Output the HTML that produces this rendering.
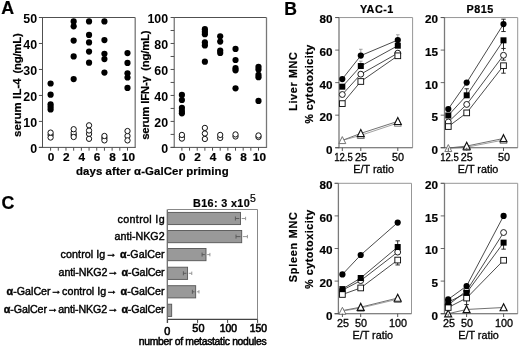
<!DOCTYPE html>
<html lang="en">
<head>
<meta charset="utf-8">
<title>Figure</title>
<style>
html,body{margin:0;padding:0;background:#fff;}
body{width:520px;height:347px;overflow:hidden;font-family:"Liberation Sans", sans-serif;}
svg{display:block;will-change:transform;}
svg text{font-family:"Liberation Sans", sans-serif;}
</style>
</head>
<body>
<svg width="520" height="347" viewBox="0 0 520 347">
<rect x="0" y="0" width="520" height="347" fill="#fff"/>
<text x="1.20" y="14.20" font-size="17.8" font-weight="bold" text-anchor="start" fill="#000" stroke="#000" stroke-width="0.2">A</text>
<line x1="42.50" y1="17.50" x2="135.20" y2="17.50" stroke="#505050" stroke-width="1"/>
<line x1="135.20" y1="17.50" x2="135.20" y2="147.90" stroke="#777" stroke-width="1.3"/>
<circle cx="50.60" cy="83.49" r="3.1" fill="#000"/>
<circle cx="50.60" cy="94.66" r="3.1" fill="#000"/>
<circle cx="50.60" cy="104.27" r="3.1" fill="#000"/>
<circle cx="50.60" cy="106.87" r="3.1" fill="#000"/>
<circle cx="50.60" cy="109.47" r="3.1" fill="#000"/>
<circle cx="73.67" cy="21.40" r="3.1" fill="#000"/>
<circle cx="73.67" cy="26.33" r="3.1" fill="#000"/>
<circle cx="73.67" cy="40.62" r="3.1" fill="#000"/>
<circle cx="73.67" cy="56.47" r="3.1" fill="#000"/>
<circle cx="73.67" cy="79.07" r="3.1" fill="#000"/>
<circle cx="89.05" cy="21.40" r="3.1" fill="#000"/>
<circle cx="89.05" cy="34.91" r="3.1" fill="#000"/>
<circle cx="89.05" cy="42.44" r="3.1" fill="#000"/>
<circle cx="89.05" cy="51.53" r="3.1" fill="#000"/>
<circle cx="89.05" cy="62.71" r="3.1" fill="#000"/>
<circle cx="104.43" cy="21.40" r="3.1" fill="#000"/>
<circle cx="104.43" cy="40.10" r="3.1" fill="#000"/>
<circle cx="104.43" cy="53.87" r="3.1" fill="#000"/>
<circle cx="104.43" cy="59.07" r="3.1" fill="#000"/>
<circle cx="104.43" cy="72.58" r="3.1" fill="#000"/>
<circle cx="127.50" cy="53.09" r="3.1" fill="#000"/>
<circle cx="127.50" cy="62.96" r="3.1" fill="#000"/>
<circle cx="127.50" cy="73.36" r="3.1" fill="#000"/>
<circle cx="127.50" cy="77.51" r="3.1" fill="#000"/>
<circle cx="127.50" cy="87.91" r="3.1" fill="#000"/>
<circle cx="50.60" cy="134.93" r="2.65" fill="#fff" stroke="#111" stroke-width="1.0"/>
<circle cx="50.60" cy="137.53" r="2.65" fill="#fff" stroke="#111" stroke-width="1.0"/>
<circle cx="50.60" cy="132.59" r="2.65" fill="#fff" stroke="#111" stroke-width="1.0"/>
<circle cx="73.67" cy="134.93" r="2.65" fill="#fff" stroke="#111" stroke-width="1.0"/>
<circle cx="73.67" cy="132.85" r="2.65" fill="#fff" stroke="#111" stroke-width="1.0"/>
<circle cx="73.67" cy="137.01" r="2.65" fill="#fff" stroke="#111" stroke-width="1.0"/>
<circle cx="73.67" cy="129.21" r="2.65" fill="#fff" stroke="#111" stroke-width="1.0"/>
<circle cx="89.05" cy="133.89" r="2.65" fill="#fff" stroke="#111" stroke-width="1.0"/>
<circle cx="89.05" cy="130.51" r="2.65" fill="#fff" stroke="#111" stroke-width="1.0"/>
<circle cx="89.05" cy="138.83" r="2.65" fill="#fff" stroke="#111" stroke-width="1.0"/>
<circle cx="89.05" cy="125.32" r="2.65" fill="#fff" stroke="#111" stroke-width="1.0"/>
<circle cx="104.43" cy="138.05" r="2.65" fill="#fff" stroke="#111" stroke-width="1.0"/>
<circle cx="104.43" cy="140.39" r="2.65" fill="#fff" stroke="#111" stroke-width="1.0"/>
<circle cx="104.43" cy="135.97" r="2.65" fill="#fff" stroke="#111" stroke-width="1.0"/>
<circle cx="127.50" cy="135.97" r="2.65" fill="#fff" stroke="#111" stroke-width="1.0"/>
<circle cx="127.50" cy="140.39" r="2.65" fill="#fff" stroke="#111" stroke-width="1.0"/>
<circle cx="127.50" cy="131.03" r="2.65" fill="#fff" stroke="#111" stroke-width="1.0"/>
<line x1="42.50" y1="17.00" x2="42.50" y2="147.90" stroke="#505050" stroke-width="1"/>
<line x1="38.90" y1="147.40" x2="135.20" y2="147.40" stroke="#505050" stroke-width="1"/>
<line x1="38.90" y1="147.40" x2="42.50" y2="147.40" stroke="#505050" stroke-width="1"/>
<text x="37.10" y="152.60" font-size="12.4" font-weight="bold" text-anchor="end" fill="#000">0</text>
<line x1="38.90" y1="121.42" x2="42.50" y2="121.42" stroke="#505050" stroke-width="1"/>
<text x="37.10" y="126.62" font-size="12.4" font-weight="bold" text-anchor="end" fill="#000">10</text>
<line x1="38.90" y1="95.44" x2="42.50" y2="95.44" stroke="#505050" stroke-width="1"/>
<text x="37.10" y="100.64" font-size="12.4" font-weight="bold" text-anchor="end" fill="#000">20</text>
<line x1="38.90" y1="69.46" x2="42.50" y2="69.46" stroke="#505050" stroke-width="1"/>
<text x="37.10" y="74.66" font-size="12.4" font-weight="bold" text-anchor="end" fill="#000">30</text>
<line x1="38.90" y1="43.48" x2="42.50" y2="43.48" stroke="#505050" stroke-width="1"/>
<text x="37.10" y="48.68" font-size="12.4" font-weight="bold" text-anchor="end" fill="#000">40</text>
<line x1="38.90" y1="17.50" x2="42.50" y2="17.50" stroke="#505050" stroke-width="1"/>
<text x="37.10" y="22.70" font-size="12.4" font-weight="bold" text-anchor="end" fill="#000">50</text>
<line x1="50.60" y1="147.40" x2="50.60" y2="150.70" stroke="#505050" stroke-width="1"/>
<line x1="58.29" y1="147.40" x2="58.29" y2="150.70" stroke="#505050" stroke-width="1"/>
<line x1="65.98" y1="147.40" x2="65.98" y2="150.70" stroke="#505050" stroke-width="1"/>
<line x1="73.67" y1="147.40" x2="73.67" y2="150.70" stroke="#505050" stroke-width="1"/>
<line x1="81.36" y1="147.40" x2="81.36" y2="150.70" stroke="#505050" stroke-width="1"/>
<line x1="89.05" y1="147.40" x2="89.05" y2="150.70" stroke="#505050" stroke-width="1"/>
<line x1="96.74" y1="147.40" x2="96.74" y2="150.70" stroke="#505050" stroke-width="1"/>
<line x1="104.43" y1="147.40" x2="104.43" y2="150.70" stroke="#505050" stroke-width="1"/>
<line x1="112.12" y1="147.40" x2="112.12" y2="150.70" stroke="#505050" stroke-width="1"/>
<line x1="119.81" y1="147.40" x2="119.81" y2="150.70" stroke="#505050" stroke-width="1"/>
<line x1="127.50" y1="147.40" x2="127.50" y2="150.70" stroke="#505050" stroke-width="1"/>
<text x="51.00" y="161.30" font-size="11.8" font-weight="bold" text-anchor="middle" fill="#000" stroke="#000" stroke-width="0.2">0</text>
<text x="66.38" y="161.30" font-size="11.8" font-weight="bold" text-anchor="middle" fill="#000" stroke="#000" stroke-width="0.2">2</text>
<text x="81.76" y="161.30" font-size="11.8" font-weight="bold" text-anchor="middle" fill="#000" stroke="#000" stroke-width="0.2">4</text>
<text x="97.14" y="161.30" font-size="11.8" font-weight="bold" text-anchor="middle" fill="#000" stroke="#000" stroke-width="0.2">6</text>
<text x="112.52" y="161.30" font-size="11.8" font-weight="bold" text-anchor="middle" fill="#000" stroke="#000" stroke-width="0.2">8</text>
<text x="128.40" y="161.30" font-size="11.8" font-weight="bold" text-anchor="middle" fill="#000" stroke="#000" stroke-width="0.2">10</text>
<text x="21.40" y="136.90" font-size="11.4" font-weight="bold" text-anchor="start" fill="#000" stroke="#000" stroke-width="0.2" transform="rotate(-90 21.40 136.90)" textLength="58.6" lengthAdjust="spacing">serum IL-4</text>
<text x="21.40" y="73.50" font-size="11.4" font-weight="bold" text-anchor="start" fill="#000" stroke="#000" stroke-width="0.2" transform="rotate(-90 21.40 73.50)" textLength="40.2" lengthAdjust="spacing">(ng/mL)</text>
<line x1="174.20" y1="17.50" x2="266.50" y2="17.50" stroke="#505050" stroke-width="1"/>
<line x1="266.50" y1="17.50" x2="266.50" y2="147.90" stroke="#777" stroke-width="1.3"/>
<circle cx="181.90" cy="94.92" r="3.1" fill="#000"/>
<circle cx="181.90" cy="99.99" r="3.1" fill="#000"/>
<circle cx="181.90" cy="107.91" r="3.1" fill="#000"/>
<circle cx="181.90" cy="111.03" r="3.1" fill="#000"/>
<circle cx="181.90" cy="113.37" r="3.1" fill="#000"/>
<circle cx="204.88" cy="29.19" r="3.1" fill="#000"/>
<circle cx="204.88" cy="31.79" r="3.1" fill="#000"/>
<circle cx="204.88" cy="34.13" r="3.1" fill="#000"/>
<circle cx="204.88" cy="42.44" r="3.1" fill="#000"/>
<circle cx="204.88" cy="45.43" r="3.1" fill="#000"/>
<circle cx="204.88" cy="61.67" r="3.1" fill="#000"/>
<circle cx="220.20" cy="36.34" r="3.1" fill="#000"/>
<circle cx="220.20" cy="41.53" r="3.1" fill="#000"/>
<circle cx="220.20" cy="50.62" r="3.1" fill="#000"/>
<circle cx="220.20" cy="52.96" r="3.1" fill="#000"/>
<circle cx="235.52" cy="48.94" r="3.1" fill="#000"/>
<circle cx="235.52" cy="59.98" r="3.1" fill="#000"/>
<circle cx="235.52" cy="68.16" r="3.1" fill="#000"/>
<circle cx="235.52" cy="70.37" r="3.1" fill="#000"/>
<circle cx="235.52" cy="88.30" r="3.1" fill="#000"/>
<circle cx="258.50" cy="66.86" r="3.1" fill="#000"/>
<circle cx="258.50" cy="69.46" r="3.1" fill="#000"/>
<circle cx="258.50" cy="74.92" r="3.1" fill="#000"/>
<circle cx="258.50" cy="77.25" r="3.1" fill="#000"/>
<circle cx="258.50" cy="100.90" r="3.1" fill="#000"/>
<circle cx="181.90" cy="136.75" r="2.65" fill="#fff" stroke="#111" stroke-width="1.0"/>
<circle cx="181.90" cy="138.57" r="2.65" fill="#fff" stroke="#111" stroke-width="1.0"/>
<circle cx="181.90" cy="134.93" r="2.65" fill="#fff" stroke="#111" stroke-width="1.0"/>
<circle cx="204.88" cy="133.50" r="2.65" fill="#fff" stroke="#111" stroke-width="1.0"/>
<circle cx="204.88" cy="138.96" r="2.65" fill="#fff" stroke="#111" stroke-width="1.0"/>
<circle cx="204.88" cy="127.92" r="2.65" fill="#fff" stroke="#111" stroke-width="1.0"/>
<circle cx="220.20" cy="137.92" r="2.65" fill="#fff" stroke="#111" stroke-width="1.0"/>
<circle cx="220.20" cy="134.93" r="2.65" fill="#fff" stroke="#111" stroke-width="1.0"/>
<circle cx="235.52" cy="136.49" r="2.65" fill="#fff" stroke="#111" stroke-width="1.0"/>
<circle cx="235.52" cy="134.41" r="2.65" fill="#fff" stroke="#111" stroke-width="1.0"/>
<circle cx="258.50" cy="137.01" r="2.65" fill="#fff" stroke="#111" stroke-width="1.0"/>
<circle cx="258.50" cy="135.45" r="2.65" fill="#fff" stroke="#111" stroke-width="1.0"/>
<line x1="174.20" y1="17.00" x2="174.20" y2="147.90" stroke="#505050" stroke-width="1"/>
<line x1="170.60" y1="147.40" x2="266.50" y2="147.40" stroke="#505050" stroke-width="1"/>
<line x1="170.60" y1="147.40" x2="174.20" y2="147.40" stroke="#505050" stroke-width="1"/>
<text x="168.10" y="152.60" font-size="12.4" font-weight="bold" text-anchor="end" fill="#000">0</text>
<line x1="170.60" y1="134.41" x2="174.20" y2="134.41" stroke="#505050" stroke-width="1"/>
<line x1="170.60" y1="121.42" x2="174.20" y2="121.42" stroke="#505050" stroke-width="1"/>
<text x="168.10" y="126.62" font-size="12.4" font-weight="bold" text-anchor="end" fill="#000">20</text>
<line x1="170.60" y1="108.43" x2="174.20" y2="108.43" stroke="#505050" stroke-width="1"/>
<line x1="170.60" y1="95.44" x2="174.20" y2="95.44" stroke="#505050" stroke-width="1"/>
<text x="168.10" y="100.64" font-size="12.4" font-weight="bold" text-anchor="end" fill="#000">40</text>
<line x1="170.60" y1="82.45" x2="174.20" y2="82.45" stroke="#505050" stroke-width="1"/>
<line x1="170.60" y1="69.46" x2="174.20" y2="69.46" stroke="#505050" stroke-width="1"/>
<text x="168.10" y="74.66" font-size="12.4" font-weight="bold" text-anchor="end" fill="#000">60</text>
<line x1="170.60" y1="56.47" x2="174.20" y2="56.47" stroke="#505050" stroke-width="1"/>
<line x1="170.60" y1="43.48" x2="174.20" y2="43.48" stroke="#505050" stroke-width="1"/>
<text x="168.10" y="48.68" font-size="12.4" font-weight="bold" text-anchor="end" fill="#000">80</text>
<line x1="170.60" y1="30.49" x2="174.20" y2="30.49" stroke="#505050" stroke-width="1"/>
<line x1="170.60" y1="17.50" x2="174.20" y2="17.50" stroke="#505050" stroke-width="1"/>
<text x="168.10" y="22.70" font-size="12.4" font-weight="bold" text-anchor="end" fill="#000">100</text>
<line x1="181.90" y1="147.40" x2="181.90" y2="150.70" stroke="#505050" stroke-width="1"/>
<line x1="189.56" y1="147.40" x2="189.56" y2="150.70" stroke="#505050" stroke-width="1"/>
<line x1="197.22" y1="147.40" x2="197.22" y2="150.70" stroke="#505050" stroke-width="1"/>
<line x1="204.88" y1="147.40" x2="204.88" y2="150.70" stroke="#505050" stroke-width="1"/>
<line x1="212.54" y1="147.40" x2="212.54" y2="150.70" stroke="#505050" stroke-width="1"/>
<line x1="220.20" y1="147.40" x2="220.20" y2="150.70" stroke="#505050" stroke-width="1"/>
<line x1="227.86" y1="147.40" x2="227.86" y2="150.70" stroke="#505050" stroke-width="1"/>
<line x1="235.52" y1="147.40" x2="235.52" y2="150.70" stroke="#505050" stroke-width="1"/>
<line x1="243.18" y1="147.40" x2="243.18" y2="150.70" stroke="#505050" stroke-width="1"/>
<line x1="250.84" y1="147.40" x2="250.84" y2="150.70" stroke="#505050" stroke-width="1"/>
<line x1="258.50" y1="147.40" x2="258.50" y2="150.70" stroke="#505050" stroke-width="1"/>
<text x="182.30" y="161.30" font-size="11.8" font-weight="bold" text-anchor="middle" fill="#000" stroke="#000" stroke-width="0.2">0</text>
<text x="197.62" y="161.30" font-size="11.8" font-weight="bold" text-anchor="middle" fill="#000" stroke="#000" stroke-width="0.2">2</text>
<text x="212.94" y="161.30" font-size="11.8" font-weight="bold" text-anchor="middle" fill="#000" stroke="#000" stroke-width="0.2">4</text>
<text x="228.26" y="161.30" font-size="11.8" font-weight="bold" text-anchor="middle" fill="#000" stroke="#000" stroke-width="0.2">6</text>
<text x="243.58" y="161.30" font-size="11.8" font-weight="bold" text-anchor="middle" fill="#000" stroke="#000" stroke-width="0.2">8</text>
<text x="259.40" y="161.30" font-size="11.8" font-weight="bold" text-anchor="middle" fill="#000" stroke="#000" stroke-width="0.2">10</text>
<text x="149.20" y="139.80" font-size="11.4" font-weight="bold" text-anchor="start" fill="#000" stroke="#000" stroke-width="0.2" transform="rotate(-90 149.20 139.80)" textLength="63.6" lengthAdjust="spacing">serum IFN-γ</text>
<text x="149.20" y="70.80" font-size="11.4" font-weight="bold" text-anchor="start" fill="#000" stroke="#000" stroke-width="0.2" transform="rotate(-90 149.20 70.80)" textLength="40.4" lengthAdjust="spacing">(ng/mL)</text>
<text x="152.30" y="174.80" font-size="11.4" font-weight="bold" text-anchor="middle" fill="#000" stroke="#000" stroke-width="0.2" textLength="152.6" lengthAdjust="spacing">days after α-GalCer priming</text>
<text x="284.30" y="14.60" font-size="17.6" font-weight="bold" text-anchor="start" fill="#000" stroke="#000" stroke-width="0.2">B</text>
<line x1="335.20" y1="17.55" x2="412.60" y2="17.55" stroke="#979797" stroke-width="1"/>
<line x1="412.60" y1="17.55" x2="412.60" y2="147.70" stroke="#979797" stroke-width="1"/>
<line x1="360.80" y1="49.27" x2="360.80" y2="55.62" stroke="#8a8a8a" stroke-width="0.8"/>
<line x1="359.00" y1="49.27" x2="362.60" y2="49.27" stroke="#8a8a8a" stroke-width="0.8"/>
<line x1="397.80" y1="34.79" x2="397.80" y2="40.00" stroke="#8a8a8a" stroke-width="0.8"/>
<line x1="396.00" y1="34.79" x2="399.60" y2="34.79" stroke="#8a8a8a" stroke-width="0.8"/>
<line x1="360.80" y1="61.15" x2="360.80" y2="66.03" stroke="#8a8a8a" stroke-width="0.8"/>
<line x1="359.00" y1="61.15" x2="362.60" y2="61.15" stroke="#8a8a8a" stroke-width="0.8"/>
<polyline points="342.30,140.38 360.80,133.38 397.80,121.34" fill="none" stroke="#333" stroke-width="0.7"/>
<polyline points="342.30,140.38 360.80,135.34 397.80,122.97" fill="none" stroke="#777" stroke-width="0.7"/>
<line x1="339.00" y1="17.55" x2="339.00" y2="148.20" stroke="#7a7a7a" stroke-width="1.3"/>
<line x1="335.20" y1="147.70" x2="412.60" y2="147.70" stroke="#5a5a5a" stroke-width="1.1"/>
<polygon points="342.30,136.58 345.80,143.58 338.80,143.58" fill="#fff" stroke="#747474" stroke-width="1.0" stroke-linejoin="miter"/>
<polygon points="360.80,131.54 364.30,138.54 357.30,138.54" fill="#fff" stroke="#747474" stroke-width="1.0" stroke-linejoin="miter"/>
<polygon points="397.80,119.17 401.30,126.17 394.30,126.17" fill="#fff" stroke="#747474" stroke-width="1.0" stroke-linejoin="miter"/>
<polygon points="360.80,129.58 364.30,136.58 357.30,136.58" fill="#fff" stroke="#111" stroke-width="1.15" stroke-linejoin="miter"/>
<polygon points="397.80,117.54 401.30,124.54 394.30,124.54" fill="#fff" stroke="#111" stroke-width="1.15" stroke-linejoin="miter"/>
<polyline points="342.30,79.05 360.80,55.62 397.80,40.00" fill="none" stroke="#2a2a2a" stroke-width="0.85"/>
<polyline points="342.30,86.69 360.80,66.03 397.80,45.69" fill="none" stroke="#2a2a2a" stroke-width="0.85"/>
<polyline points="342.30,94.50 360.80,74.17 397.80,53.18" fill="none" stroke="#2a2a2a" stroke-width="0.85"/>
<polyline points="342.30,103.61 360.80,81.49 397.80,55.78" fill="none" stroke="#2a2a2a" stroke-width="0.85"/>
<circle cx="342.30" cy="94.50" r="2.95" fill="#fff" stroke="#111" stroke-width="0.95"/>
<circle cx="360.80" cy="74.17" r="2.95" fill="#fff" stroke="#111" stroke-width="0.95"/>
<circle cx="397.80" cy="53.18" r="2.95" fill="#fff" stroke="#111" stroke-width="0.95"/>
<rect x="339.45" y="100.76" width="5.7" height="5.7" fill="#fff" stroke="#111" stroke-width="0.95"/>
<rect x="357.95" y="78.64" width="5.7" height="5.7" fill="#fff" stroke="#111" stroke-width="0.95"/>
<rect x="394.95" y="52.93" width="5.7" height="5.7" fill="#fff" stroke="#111" stroke-width="0.95"/>
<rect x="339.30" y="83.69" width="6.0" height="6.0" fill="#000"/>
<rect x="357.80" y="63.03" width="6.0" height="6.0" fill="#000"/>
<rect x="394.80" y="42.69" width="6.0" height="6.0" fill="#000"/>
<circle cx="342.30" cy="79.05" r="3.1" fill="#000"/>
<circle cx="360.80" cy="55.62" r="3.1" fill="#000"/>
<circle cx="397.80" cy="40.00" r="3.1" fill="#000"/>
<line x1="335.20" y1="147.70" x2="339.00" y2="147.70" stroke="#444" stroke-width="0.8"/>
<text x="332.60" y="153.60" font-size="11.7" font-weight="bold" text-anchor="end" fill="#000" stroke="#000" stroke-width="0.2">0</text>
<line x1="335.20" y1="115.16" x2="339.00" y2="115.16" stroke="#444" stroke-width="0.8"/>
<text x="332.60" y="121.06" font-size="11.7" font-weight="bold" text-anchor="end" fill="#000" stroke="#000" stroke-width="0.2">20</text>
<line x1="335.20" y1="82.62" x2="339.00" y2="82.62" stroke="#444" stroke-width="0.8"/>
<text x="332.60" y="88.53" font-size="11.7" font-weight="bold" text-anchor="end" fill="#000" stroke="#000" stroke-width="0.2">40</text>
<line x1="335.20" y1="50.09" x2="339.00" y2="50.09" stroke="#444" stroke-width="0.8"/>
<text x="332.60" y="55.99" font-size="11.7" font-weight="bold" text-anchor="end" fill="#000" stroke="#000" stroke-width="0.2">60</text>
<line x1="335.20" y1="17.55" x2="339.00" y2="17.55" stroke="#444" stroke-width="0.8"/>
<text x="332.60" y="23.45" font-size="11.7" font-weight="bold" text-anchor="end" fill="#000" stroke="#000" stroke-width="0.2">80</text>
<line x1="342.30" y1="147.70" x2="342.30" y2="151.00" stroke="#555" stroke-width="1"/>
<text x="343.50" y="161.20" font-size="10.8" font-weight="normal" text-anchor="middle" fill="#000" stroke="#000" stroke-width="0.3" textLength="18.6" lengthAdjust="spacingAndGlyphs">12.5</text>
<line x1="360.80" y1="147.70" x2="360.80" y2="151.00" stroke="#555" stroke-width="1"/>
<text x="360.90" y="161.20" font-size="10.8" font-weight="normal" text-anchor="middle" fill="#000" stroke="#000" stroke-width="0.3">25</text>
<line x1="397.80" y1="147.70" x2="397.80" y2="151.00" stroke="#555" stroke-width="1"/>
<text x="398.10" y="161.20" font-size="10.8" font-weight="normal" text-anchor="middle" fill="#000" stroke="#000" stroke-width="0.3">50</text>
<text x="373.65" y="172.90" font-size="10.8" font-weight="normal" text-anchor="middle" fill="#000" stroke="#000" stroke-width="0.3" textLength="40.6" lengthAdjust="spacing">E/T ratio</text>
<line x1="440.70" y1="17.55" x2="517.70" y2="17.55" stroke="#979797" stroke-width="1"/>
<line x1="517.70" y1="17.55" x2="517.70" y2="147.70" stroke="#979797" stroke-width="1"/>
<line x1="503.50" y1="19.18" x2="503.50" y2="31.54" stroke="#222" stroke-width="0.95"/>
<line x1="501.30" y1="19.18" x2="505.70" y2="19.18" stroke="#222" stroke-width="0.95"/>
<line x1="501.30" y1="31.54" x2="505.70" y2="31.54" stroke="#222" stroke-width="0.95"/>
<line x1="503.50" y1="40.33" x2="503.50" y2="50.74" stroke="#222" stroke-width="0.95"/>
<line x1="501.30" y1="48.46" x2="505.70" y2="48.46" stroke="#222" stroke-width="0.95"/>
<line x1="503.50" y1="55.29" x2="503.50" y2="60.17" stroke="#222" stroke-width="0.95"/>
<line x1="501.30" y1="60.17" x2="505.70" y2="60.17" stroke="#222" stroke-width="0.95"/>
<line x1="503.50" y1="65.71" x2="503.50" y2="73.19" stroke="#222" stroke-width="0.95"/>
<line x1="501.30" y1="73.19" x2="505.70" y2="73.19" stroke="#222" stroke-width="0.95"/>
<line x1="466.70" y1="88.81" x2="466.70" y2="95.31" stroke="#222" stroke-width="0.95"/>
<line x1="464.50" y1="88.81" x2="468.90" y2="88.81" stroke="#222" stroke-width="0.95"/>
<polyline points="448.30,148.03 466.70,146.07 503.50,138.46" fill="none" stroke="#333" stroke-width="0.7"/>
<polyline points="448.30,148.35 466.70,147.18 503.50,140.02" fill="none" stroke="#777" stroke-width="0.7"/>
<line x1="444.50" y1="17.55" x2="444.50" y2="148.20" stroke="#7a7a7a" stroke-width="1.3"/>
<line x1="440.70" y1="147.70" x2="517.70" y2="147.70" stroke="#5a5a5a" stroke-width="1.1"/>
<polygon points="448.30,144.55 451.80,151.55 444.80,151.55" fill="#fff" stroke="#747474" stroke-width="1.0" stroke-linejoin="miter"/>
<polygon points="466.70,143.38 470.20,150.38 463.20,150.38" fill="#fff" stroke="#747474" stroke-width="1.0" stroke-linejoin="miter"/>
<polygon points="503.50,136.22 507.00,143.22 500.00,143.22" fill="#fff" stroke="#747474" stroke-width="1.0" stroke-linejoin="miter"/>
<polygon points="466.70,142.27 470.20,149.27 463.20,149.27" fill="#fff" stroke="#111" stroke-width="1.15" stroke-linejoin="miter"/>
<polygon points="503.50,134.66 507.00,141.66 500.00,141.66" fill="#fff" stroke="#111" stroke-width="1.15" stroke-linejoin="miter"/>
<polyline points="448.30,108.98 466.70,82.62 503.50,24.06" fill="none" stroke="#2a2a2a" stroke-width="0.85"/>
<polyline points="448.30,115.49 466.70,95.31 503.50,40.33" fill="none" stroke="#2a2a2a" stroke-width="0.85"/>
<polyline points="448.30,122.00 466.70,104.43 503.50,55.29" fill="none" stroke="#2a2a2a" stroke-width="0.85"/>
<polyline points="448.30,126.55 466.70,112.88 503.50,65.71" fill="none" stroke="#2a2a2a" stroke-width="0.85"/>
<circle cx="448.30" cy="122.00" r="2.95" fill="#fff" stroke="#111" stroke-width="0.95"/>
<circle cx="466.70" cy="104.43" r="2.95" fill="#fff" stroke="#111" stroke-width="0.95"/>
<circle cx="503.50" cy="55.29" r="2.95" fill="#fff" stroke="#111" stroke-width="0.95"/>
<rect x="445.45" y="123.70" width="5.7" height="5.7" fill="#fff" stroke="#111" stroke-width="0.95"/>
<rect x="463.85" y="110.03" width="5.7" height="5.7" fill="#fff" stroke="#111" stroke-width="0.95"/>
<rect x="500.65" y="62.86" width="5.7" height="5.7" fill="#fff" stroke="#111" stroke-width="0.95"/>
<rect x="445.30" y="112.49" width="6.0" height="6.0" fill="#000"/>
<rect x="463.70" y="92.31" width="6.0" height="6.0" fill="#000"/>
<rect x="500.50" y="37.33" width="6.0" height="6.0" fill="#000"/>
<circle cx="448.30" cy="108.98" r="3.1" fill="#000"/>
<circle cx="466.70" cy="82.62" r="3.1" fill="#000"/>
<circle cx="503.50" cy="24.06" r="3.1" fill="#000"/>
<line x1="440.70" y1="147.70" x2="444.50" y2="147.70" stroke="#444" stroke-width="0.8"/>
<text x="438.00" y="153.60" font-size="11.7" font-weight="bold" text-anchor="end" fill="#000" stroke="#000" stroke-width="0.2">0</text>
<line x1="440.70" y1="115.16" x2="444.50" y2="115.16" stroke="#444" stroke-width="0.8"/>
<text x="438.00" y="121.06" font-size="11.7" font-weight="bold" text-anchor="end" fill="#000" stroke="#000" stroke-width="0.2">5</text>
<line x1="440.70" y1="82.62" x2="444.50" y2="82.62" stroke="#444" stroke-width="0.8"/>
<text x="438.00" y="88.53" font-size="11.7" font-weight="bold" text-anchor="end" fill="#000" stroke="#000" stroke-width="0.2">10</text>
<line x1="440.70" y1="50.09" x2="444.50" y2="50.09" stroke="#444" stroke-width="0.8"/>
<text x="438.00" y="55.99" font-size="11.7" font-weight="bold" text-anchor="end" fill="#000" stroke="#000" stroke-width="0.2">15</text>
<line x1="440.70" y1="17.55" x2="444.50" y2="17.55" stroke="#444" stroke-width="0.8"/>
<text x="438.00" y="23.45" font-size="11.7" font-weight="bold" text-anchor="end" fill="#000" stroke="#000" stroke-width="0.2">20</text>
<line x1="448.30" y1="147.70" x2="448.30" y2="151.00" stroke="#555" stroke-width="1"/>
<text x="449.50" y="161.20" font-size="10.8" font-weight="normal" text-anchor="middle" fill="#000" stroke="#000" stroke-width="0.3" textLength="18.6" lengthAdjust="spacingAndGlyphs">12.5</text>
<line x1="466.70" y1="147.70" x2="466.70" y2="151.00" stroke="#555" stroke-width="1"/>
<text x="466.70" y="161.20" font-size="10.8" font-weight="normal" text-anchor="middle" fill="#000" stroke="#000" stroke-width="0.3">25</text>
<line x1="503.50" y1="147.70" x2="503.50" y2="151.00" stroke="#555" stroke-width="1"/>
<text x="504.00" y="161.20" font-size="10.8" font-weight="normal" text-anchor="middle" fill="#000" stroke="#000" stroke-width="0.3">50</text>
<text x="478.00" y="172.90" font-size="10.8" font-weight="normal" text-anchor="middle" fill="#000" stroke="#000" stroke-width="0.3" textLength="40.6" lengthAdjust="spacing">E/T ratio</text>
<line x1="334.60" y1="183.30" x2="411.50" y2="183.30" stroke="#979797" stroke-width="1"/>
<line x1="411.50" y1="183.30" x2="411.50" y2="313.70" stroke="#979797" stroke-width="1"/>
<line x1="397.70" y1="240.84" x2="397.70" y2="247.03" stroke="#222" stroke-width="0.95"/>
<line x1="395.50" y1="240.84" x2="399.90" y2="240.84" stroke="#222" stroke-width="0.95"/>
<line x1="397.70" y1="260.07" x2="397.70" y2="264.96" stroke="#222" stroke-width="0.95"/>
<line x1="395.50" y1="264.96" x2="399.90" y2="264.96" stroke="#222" stroke-width="0.95"/>
<polyline points="342.40,310.60 360.70,307.18 397.70,298.05" fill="none" stroke="#333" stroke-width="0.7"/>
<polyline points="342.40,311.09 360.70,308.00 397.70,299.19" fill="none" stroke="#777" stroke-width="0.7"/>
<line x1="338.40" y1="183.30" x2="338.40" y2="314.20" stroke="#7a7a7a" stroke-width="1.3"/>
<line x1="334.60" y1="313.70" x2="411.50" y2="313.70" stroke="#5a5a5a" stroke-width="1.1"/>
<polygon points="342.40,307.29 345.90,314.29 338.90,314.29" fill="#fff" stroke="#747474" stroke-width="1.0" stroke-linejoin="miter"/>
<polygon points="360.70,304.19 364.20,311.19 357.20,311.19" fill="#fff" stroke="#747474" stroke-width="1.0" stroke-linejoin="miter"/>
<polygon points="397.70,295.39 401.20,302.39 394.20,302.39" fill="#fff" stroke="#747474" stroke-width="1.0" stroke-linejoin="miter"/>
<polygon points="360.70,303.38 364.20,310.38 357.20,310.38" fill="#fff" stroke="#111" stroke-width="1.15" stroke-linejoin="miter"/>
<polygon points="397.70,294.25 401.20,301.25 394.20,301.25" fill="#fff" stroke="#111" stroke-width="1.15" stroke-linejoin="miter"/>
<polyline points="342.40,274.42 360.70,255.02 397.70,222.58" fill="none" stroke="#2a2a2a" stroke-width="0.85"/>
<polyline points="342.40,289.09 360.70,278.00 397.70,247.03" fill="none" stroke="#2a2a2a" stroke-width="0.85"/>
<polyline points="342.40,290.23 360.70,280.61 397.70,252.09" fill="none" stroke="#2a2a2a" stroke-width="0.85"/>
<polyline points="342.40,294.47 360.70,287.95 397.70,260.07" fill="none" stroke="#2a2a2a" stroke-width="0.85"/>
<circle cx="342.40" cy="290.23" r="2.95" fill="#fff" stroke="#111" stroke-width="0.95"/>
<circle cx="360.70" cy="280.61" r="2.95" fill="#fff" stroke="#111" stroke-width="0.95"/>
<circle cx="397.70" cy="252.09" r="2.95" fill="#fff" stroke="#111" stroke-width="0.95"/>
<rect x="339.55" y="291.62" width="5.7" height="5.7" fill="#fff" stroke="#111" stroke-width="0.95"/>
<rect x="357.85" y="285.10" width="5.7" height="5.7" fill="#fff" stroke="#111" stroke-width="0.95"/>
<rect x="394.85" y="257.22" width="5.7" height="5.7" fill="#fff" stroke="#111" stroke-width="0.95"/>
<rect x="339.40" y="286.09" width="6.0" height="6.0" fill="#000"/>
<rect x="357.70" y="275.00" width="6.0" height="6.0" fill="#000"/>
<rect x="394.70" y="244.03" width="6.0" height="6.0" fill="#000"/>
<circle cx="342.40" cy="274.42" r="3.1" fill="#000"/>
<circle cx="360.70" cy="255.02" r="3.1" fill="#000"/>
<circle cx="397.70" cy="222.58" r="3.1" fill="#000"/>
<line x1="334.60" y1="313.70" x2="338.40" y2="313.70" stroke="#444" stroke-width="0.8"/>
<text x="332.60" y="319.60" font-size="11.7" font-weight="bold" text-anchor="end" fill="#000" stroke="#000" stroke-width="0.2">0</text>
<line x1="334.60" y1="281.10" x2="338.40" y2="281.10" stroke="#444" stroke-width="0.8"/>
<text x="332.60" y="287.00" font-size="11.7" font-weight="bold" text-anchor="end" fill="#000" stroke="#000" stroke-width="0.2">20</text>
<line x1="334.60" y1="248.50" x2="338.40" y2="248.50" stroke="#444" stroke-width="0.8"/>
<text x="332.60" y="254.40" font-size="11.7" font-weight="bold" text-anchor="end" fill="#000" stroke="#000" stroke-width="0.2">40</text>
<line x1="334.60" y1="215.90" x2="338.40" y2="215.90" stroke="#444" stroke-width="0.8"/>
<text x="332.60" y="221.80" font-size="11.7" font-weight="bold" text-anchor="end" fill="#000" stroke="#000" stroke-width="0.2">60</text>
<line x1="334.60" y1="183.30" x2="338.40" y2="183.30" stroke="#444" stroke-width="0.8"/>
<text x="332.60" y="189.20" font-size="11.7" font-weight="bold" text-anchor="end" fill="#000" stroke="#000" stroke-width="0.2">80</text>
<line x1="342.40" y1="313.70" x2="342.40" y2="317.00" stroke="#555" stroke-width="1"/>
<text x="342.90" y="327.20" font-size="10.8" font-weight="normal" text-anchor="middle" fill="#000" stroke="#000" stroke-width="0.3">25</text>
<line x1="360.70" y1="313.70" x2="360.70" y2="317.00" stroke="#555" stroke-width="1"/>
<text x="361.10" y="327.20" font-size="10.8" font-weight="normal" text-anchor="middle" fill="#000" stroke="#000" stroke-width="0.3">50</text>
<line x1="397.70" y1="313.70" x2="397.70" y2="317.00" stroke="#555" stroke-width="1"/>
<text x="398.10" y="327.20" font-size="10.8" font-weight="normal" text-anchor="middle" fill="#000" stroke="#000" stroke-width="0.3">100</text>
<text x="372.75" y="338.90" font-size="10.8" font-weight="normal" text-anchor="middle" fill="#000" stroke="#000" stroke-width="0.3" textLength="40.6" lengthAdjust="spacing">E/T ratio</text>
<line x1="440.70" y1="183.30" x2="517.70" y2="183.30" stroke="#979797" stroke-width="1"/>
<line x1="517.70" y1="183.30" x2="517.70" y2="313.70" stroke="#979797" stroke-width="1"/>
<line x1="503.60" y1="242.63" x2="503.60" y2="249.15" stroke="#222" stroke-width="0.95"/>
<line x1="501.40" y1="249.15" x2="505.80" y2="249.15" stroke="#222" stroke-width="0.95"/>
<line x1="466.60" y1="298.05" x2="466.60" y2="306.53" stroke="#222" stroke-width="0.95"/>
<line x1="464.40" y1="304.57" x2="468.80" y2="304.57" stroke="#222" stroke-width="0.95"/>
<polyline points="448.20,313.70 466.60,309.46 503.60,307.51" fill="none" stroke="#333" stroke-width="0.7"/>
<line x1="444.50" y1="183.30" x2="444.50" y2="314.20" stroke="#7a7a7a" stroke-width="1.3"/>
<line x1="440.70" y1="313.70" x2="517.70" y2="313.70" stroke="#5a5a5a" stroke-width="1.1"/>
<polygon points="448.20,309.90 451.70,316.90 444.70,316.90" fill="#fff" stroke="#111" stroke-width="1.15" stroke-linejoin="miter"/>
<polygon points="466.60,305.66 470.10,312.66 463.10,312.66" fill="#fff" stroke="#111" stroke-width="1.15" stroke-linejoin="miter"/>
<polygon points="503.60,303.71 507.10,310.71 500.10,310.71" fill="#fff" stroke="#111" stroke-width="1.15" stroke-linejoin="miter"/>
<polyline points="448.20,299.36 466.60,285.99 503.60,215.90" fill="none" stroke="#2a2a2a" stroke-width="0.85"/>
<polyline points="448.20,302.29 466.60,292.84 503.60,242.63" fill="none" stroke="#2a2a2a" stroke-width="0.85"/>
<polyline points="448.20,304.90 466.60,290.88 503.60,232.53" fill="none" stroke="#2a2a2a" stroke-width="0.85"/>
<polyline points="448.20,307.51 466.60,298.05 503.60,260.24" fill="none" stroke="#2a2a2a" stroke-width="0.85"/>
<circle cx="448.20" cy="304.90" r="2.95" fill="#fff" stroke="#111" stroke-width="0.95"/>
<circle cx="466.60" cy="290.88" r="2.95" fill="#fff" stroke="#111" stroke-width="0.95"/>
<circle cx="503.60" cy="232.53" r="2.95" fill="#fff" stroke="#111" stroke-width="0.95"/>
<rect x="445.35" y="304.66" width="5.7" height="5.7" fill="#fff" stroke="#111" stroke-width="0.95"/>
<rect x="463.75" y="295.20" width="5.7" height="5.7" fill="#fff" stroke="#111" stroke-width="0.95"/>
<rect x="500.75" y="257.39" width="5.7" height="5.7" fill="#fff" stroke="#111" stroke-width="0.95"/>
<rect x="445.20" y="299.29" width="6.0" height="6.0" fill="#000"/>
<rect x="463.60" y="289.84" width="6.0" height="6.0" fill="#000"/>
<rect x="500.60" y="239.63" width="6.0" height="6.0" fill="#000"/>
<circle cx="448.20" cy="299.36" r="3.1" fill="#000"/>
<circle cx="466.60" cy="285.99" r="3.1" fill="#000"/>
<circle cx="503.60" cy="215.90" r="3.1" fill="#000"/>
<line x1="440.70" y1="313.70" x2="444.50" y2="313.70" stroke="#444" stroke-width="0.8"/>
<text x="438.00" y="319.60" font-size="11.7" font-weight="bold" text-anchor="end" fill="#000" stroke="#000" stroke-width="0.2">0</text>
<line x1="440.70" y1="281.10" x2="444.50" y2="281.10" stroke="#444" stroke-width="0.8"/>
<text x="438.00" y="287.00" font-size="11.7" font-weight="bold" text-anchor="end" fill="#000" stroke="#000" stroke-width="0.2">5</text>
<line x1="440.70" y1="248.50" x2="444.50" y2="248.50" stroke="#444" stroke-width="0.8"/>
<text x="438.00" y="254.40" font-size="11.7" font-weight="bold" text-anchor="end" fill="#000" stroke="#000" stroke-width="0.2">10</text>
<line x1="440.70" y1="215.90" x2="444.50" y2="215.90" stroke="#444" stroke-width="0.8"/>
<text x="438.00" y="221.80" font-size="11.7" font-weight="bold" text-anchor="end" fill="#000" stroke="#000" stroke-width="0.2">15</text>
<line x1="440.70" y1="183.30" x2="444.50" y2="183.30" stroke="#444" stroke-width="0.8"/>
<text x="438.00" y="189.20" font-size="11.7" font-weight="bold" text-anchor="end" fill="#000" stroke="#000" stroke-width="0.2">20</text>
<line x1="448.20" y1="313.70" x2="448.20" y2="317.00" stroke="#555" stroke-width="1"/>
<text x="448.90" y="327.20" font-size="10.8" font-weight="normal" text-anchor="middle" fill="#000" stroke="#000" stroke-width="0.3">25</text>
<line x1="466.60" y1="313.70" x2="466.60" y2="317.00" stroke="#555" stroke-width="1"/>
<text x="467.10" y="327.20" font-size="10.8" font-weight="normal" text-anchor="middle" fill="#000" stroke="#000" stroke-width="0.3">50</text>
<line x1="503.60" y1="313.70" x2="503.60" y2="317.00" stroke="#555" stroke-width="1"/>
<text x="504.10" y="327.20" font-size="10.8" font-weight="normal" text-anchor="middle" fill="#000" stroke="#000" stroke-width="0.3">100</text>
<text x="478.50" y="338.90" font-size="10.8" font-weight="normal" text-anchor="middle" fill="#000" stroke="#000" stroke-width="0.3" textLength="40.6" lengthAdjust="spacing">E/T ratio</text>
<text x="376.60" y="13.40" font-size="10.8" font-weight="bold" text-anchor="middle" fill="#000" stroke="#000" stroke-width="0.2" textLength="33.4" lengthAdjust="spacing">YAC-1</text>
<text x="479.90" y="12.60" font-size="10.8" font-weight="bold" text-anchor="middle" fill="#000" stroke="#000" stroke-width="0.2" textLength="26.6" lengthAdjust="spacing">P815</text>
<text x="297.20" y="110.80" font-size="10.8" font-weight="bold" text-anchor="start" fill="#000" stroke="#000" stroke-width="0.2" transform="rotate(-90 297.20 110.80)" textLength="58.7" lengthAdjust="spacing">Liver MNC</text>
<text x="313.00" y="123.80" font-size="10.8" font-weight="bold" text-anchor="start" fill="#000" stroke="#000" stroke-width="0.2" transform="rotate(-90 313.00 123.80)" textLength="79.2" lengthAdjust="spacing">% cytotoxicity</text>
<text x="297.20" y="282.20" font-size="10.8" font-weight="bold" text-anchor="start" fill="#000" stroke="#000" stroke-width="0.2" transform="rotate(-90 297.20 282.20)" textLength="70.0" lengthAdjust="spacing">Spleen MNC</text>
<text x="313.10" y="288.90" font-size="10.8" font-weight="bold" text-anchor="start" fill="#000" stroke="#000" stroke-width="0.2" transform="rotate(-90 313.10 288.90)" textLength="79.2" lengthAdjust="spacing">% cytotoxicity</text>
<text x="1.50" y="208.70" font-size="17.8" font-weight="bold" text-anchor="start" fill="#000" stroke="#000" stroke-width="0.2">C</text>
<line x1="167.60" y1="209.50" x2="257.50" y2="209.50" stroke="#888" stroke-width="1"/>
<line x1="257.50" y1="209.50" x2="257.50" y2="319.40" stroke="#888" stroke-width="1"/>
<rect x="167.60" y="212.40" width="72.90" height="12.2" fill="#999" stroke="#555" stroke-width="0.9"/>
<line x1="235.40" y1="218.50" x2="239.30" y2="218.50" stroke="#555" stroke-width="0.9"/>
<line x1="241.70" y1="218.50" x2="245.60" y2="218.50" stroke="#8c8c8c" stroke-width="0.9"/>
<line x1="235.40" y1="216.50" x2="235.40" y2="220.50" stroke="#555" stroke-width="0.9"/>
<line x1="245.60" y1="216.80" x2="245.60" y2="220.20" stroke="#8c8c8c" stroke-width="0.9"/>
<rect x="167.60" y="230.50" width="74.10" height="12.2" fill="#999" stroke="#555" stroke-width="0.9"/>
<line x1="236.00" y1="236.60" x2="240.50" y2="236.60" stroke="#555" stroke-width="0.9"/>
<line x1="242.90" y1="236.60" x2="247.40" y2="236.60" stroke="#8c8c8c" stroke-width="0.9"/>
<line x1="236.00" y1="234.60" x2="236.00" y2="238.60" stroke="#555" stroke-width="0.9"/>
<line x1="247.40" y1="234.90" x2="247.40" y2="238.30" stroke="#8c8c8c" stroke-width="0.9"/>
<rect x="167.60" y="248.50" width="38.40" height="12.2" fill="#999" stroke="#555" stroke-width="0.9"/>
<line x1="202.10" y1="254.60" x2="204.80" y2="254.60" stroke="#555" stroke-width="0.9"/>
<line x1="207.20" y1="254.60" x2="209.90" y2="254.60" stroke="#8c8c8c" stroke-width="0.9"/>
<line x1="202.10" y1="252.60" x2="202.10" y2="256.60" stroke="#555" stroke-width="0.9"/>
<line x1="209.90" y1="252.90" x2="209.90" y2="256.30" stroke="#8c8c8c" stroke-width="0.9"/>
<rect x="167.60" y="267.20" width="19.98" height="12.2" fill="#999" stroke="#555" stroke-width="0.9"/>
<line x1="183.38" y1="273.30" x2="186.38" y2="273.30" stroke="#555" stroke-width="0.9"/>
<line x1="188.78" y1="273.30" x2="191.78" y2="273.30" stroke="#8c8c8c" stroke-width="0.9"/>
<line x1="183.38" y1="271.30" x2="183.38" y2="275.30" stroke="#555" stroke-width="0.9"/>
<line x1="191.78" y1="271.60" x2="191.78" y2="275.00" stroke="#8c8c8c" stroke-width="0.9"/>
<rect x="167.60" y="285.70" width="28.08" height="12.2" fill="#999" stroke="#555" stroke-width="0.9"/>
<line x1="192.38" y1="291.80" x2="194.48" y2="291.80" stroke="#555" stroke-width="0.9"/>
<line x1="196.88" y1="291.80" x2="198.98" y2="291.80" stroke="#8c8c8c" stroke-width="0.9"/>
<line x1="192.38" y1="289.80" x2="192.38" y2="293.80" stroke="#555" stroke-width="0.9"/>
<line x1="198.98" y1="290.10" x2="198.98" y2="293.50" stroke="#8c8c8c" stroke-width="0.9"/>
<rect x="167.60" y="304.20" width="4.08" height="12.2" fill="#999" stroke="#555" stroke-width="0.9"/>
<line x1="167.30" y1="209.50" x2="167.30" y2="322.90" stroke="#6e6e6e" stroke-width="1.3"/>
<line x1="167.60" y1="319.40" x2="257.50" y2="319.40" stroke="#444" stroke-width="1.2"/>
<line x1="167.60" y1="319.40" x2="167.60" y2="322.90" stroke="#444" stroke-width="1"/>
<text x="167.30" y="334.90" font-size="10.9" font-weight="normal" text-anchor="middle" fill="#000" stroke="#000" stroke-width="0.6">0</text>
<line x1="197.60" y1="319.40" x2="197.60" y2="322.90" stroke="#444" stroke-width="1"/>
<text x="198.40" y="332.40" font-size="10.9" font-weight="normal" text-anchor="middle" fill="#000" stroke="#000" stroke-width="0.6">50</text>
<line x1="227.60" y1="319.40" x2="227.60" y2="322.90" stroke="#444" stroke-width="1"/>
<text x="228.40" y="332.40" font-size="10.9" font-weight="normal" text-anchor="middle" fill="#000" stroke="#000" stroke-width="0.6" textLength="17.3" lengthAdjust="spacingAndGlyphs">100</text>
<line x1="257.60" y1="319.40" x2="257.60" y2="322.90" stroke="#444" stroke-width="1"/>
<text x="258.40" y="332.40" font-size="10.9" font-weight="normal" text-anchor="middle" fill="#000" stroke="#000" stroke-width="0.6" textLength="17.3" lengthAdjust="spacingAndGlyphs">150</text>
<text x="202.70" y="345.00" font-size="10.4" font-weight="normal" text-anchor="middle" fill="#000" stroke="#000" stroke-width="0.5" textLength="128.0" lengthAdjust="spacing">number of metastatic nodules</text>
<text x="224.50" y="207.00" font-size="10.8" font-weight="bold" text-anchor="middle" fill="#000" stroke="#000" stroke-width="0.2" textLength="62.8" lengthAdjust="spacing">B16: 3 x10<tspan dy="-5.0" font-size="10.5" font-weight="normal">5</tspan></text>
<text x="164.60" y="222.60" font-size="10.7" font-weight="normal" text-anchor="end" fill="#000" stroke="#000" stroke-width="0.4" textLength="47.0" lengthAdjust="spacing">control Ig</text>
<text x="164.60" y="240.40" font-size="10.7" font-weight="normal" text-anchor="end" fill="#000" stroke="#000" stroke-width="0.4" textLength="50.0" lengthAdjust="spacing">anti-NKG2</text>
<text x="164.60" y="257.80" font-size="10.7" font-weight="normal" text-anchor="end" fill="#000" stroke="#000" stroke-width="0.4" textLength="104.0" lengthAdjust="spacing">control Ig<tspan dy="-1.3" font-weight="bold" font-size="11.5">→</tspan><tspan dy="1.3"> <tspan font-weight="bold">α</tspan>-GalCer</tspan></text>
<text x="164.60" y="276.40" font-size="10.7" font-weight="normal" text-anchor="end" fill="#000" stroke="#000" stroke-width="0.4" textLength="106.0" lengthAdjust="spacing">anti-NKG2<tspan dy="-1.3" font-weight="bold" font-size="11.5">→</tspan><tspan dy="1.3"> <tspan font-weight="bold">α</tspan>-GalCer</tspan></text>
<text x="164.60" y="295.00" font-size="10.7" font-weight="normal" text-anchor="end" fill="#000" stroke="#000" stroke-width="0.4" textLength="158.0" lengthAdjust="spacing"><tspan font-weight="bold">α</tspan>-GalCer<tspan dy="-1.3" font-weight="bold" font-size="11.5">→</tspan><tspan dy="1.3">control Ig</tspan><tspan dy="-1.3" font-weight="bold" font-size="11.5">→</tspan><tspan dy="1.3"> <tspan font-weight="bold">α</tspan>-GalCer</tspan></text>
<text x="164.60" y="313.00" font-size="10.7" font-weight="normal" text-anchor="end" fill="#000" stroke="#000" stroke-width="0.4" textLength="160.8" lengthAdjust="spacing"><tspan font-weight="bold">α</tspan>-GalCer<tspan dy="-1.3" font-weight="bold" font-size="11.5">→</tspan><tspan dy="1.3">anti-NKG2</tspan><tspan dy="-1.3" font-weight="bold" font-size="11.5">→</tspan><tspan dy="1.3"> <tspan font-weight="bold">α</tspan>-GalCer</tspan></text>
</svg>
</body>
</html>
